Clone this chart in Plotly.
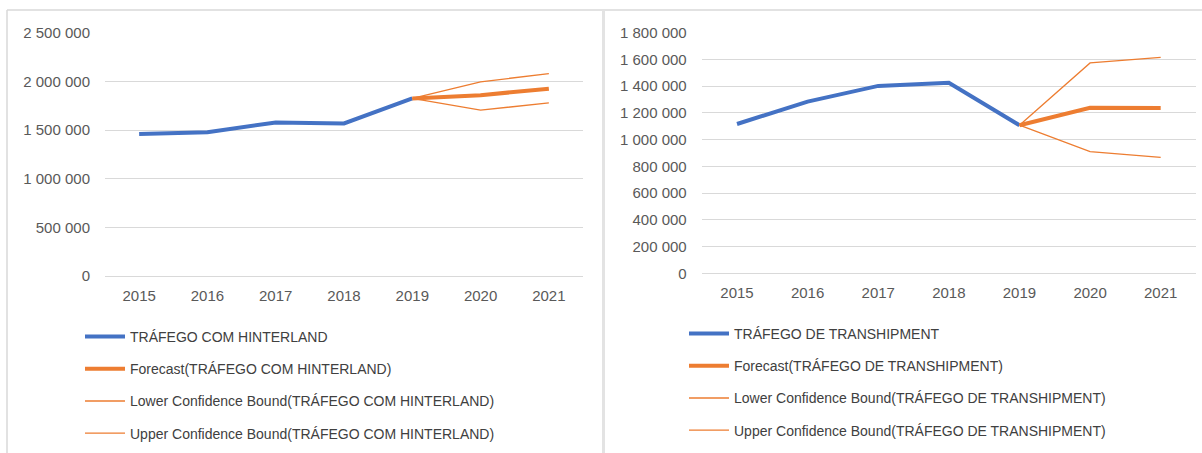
import plotly.graph_objects as go

years = ["2015", "2016", "2017", "2018", "2019", "2020", "2021"]
fc_years = ["2019", "2020", "2021"]

# Left chart: TRÁFEGO COM HINTERLAND
hint_actual = [1458000, 1478000, 1578000, 1568000, 1825000]
hint_forecast = [1825000, 1858000, 1925000]
hint_lower = [1825000, 1704000, 1779000]
hint_upper = [1825000, 1995000, 2080000]

# Right chart: TRÁFEGO DE TRANSHIPMENT
tran_actual = [1117000, 1284000, 1402000, 1425000, 1108000]
tran_forecast = [1108000, 1238000, 1236000]
tran_lower = [1108000, 910000, 868000]
tran_upper = [1108000, 1574000, 1615000]

names_left = ["TRÁFEGO COM HINTERLAND", "Forecast(TRÁFEGO COM HINTERLAND)",
              "Lower Confidence Bound(TRÁFEGO COM HINTERLAND)",
              "Upper Confidence Bound(TRÁFEGO COM HINTERLAND)"]
names_right = ["TRÁFEGO DE TRANSHIPMENT", "Forecast(TRÁFEGO DE TRANSHIPMENT)",
               "Lower Confidence Bound(TRÁFEGO DE TRANSHIPMENT)",
               "Upper Confidence Bound(TRÁFEGO DE TRANSHIPMENT)"]

BLUE = "#4472C4"
ORANGE = "#ED7D31"
W, H = 1202, 453
FONT = "Liberation Sans"

fig = go.Figure()

def add_set(actual, fc, lo, up, names, xa, ya, leg, grp):
    fig.add_trace(go.Scatter(x=years[:5], y=actual, mode="lines", name=names[0],
                             line=dict(color=BLUE, width=4), xaxis=xa, yaxis=ya,
                             legend=leg, legendgroup=grp + "a", legendrank=1))
    fig.add_trace(go.Scatter(x=fc_years, y=lo, mode="lines", name=names[2],
                             line=dict(color=ORANGE, width=1.3), xaxis=xa, yaxis=ya,
                             legend=leg, legendgroup=grp + "c", legendrank=3))
    fig.add_trace(go.Scatter(x=fc_years, y=up, mode="lines", name=names[3],
                             line=dict(color=ORANGE, width=1.3), xaxis=xa, yaxis=ya,
                             legend=leg, legendgroup=grp + "d", legendrank=4))
    fig.add_trace(go.Scatter(x=fc_years, y=fc, mode="lines", name=names[1],
                             line=dict(color=ORANGE, width=4), xaxis=xa, yaxis=ya,
                             legend=leg, legendgroup=grp + "b", legendrank=2))

add_set(hint_actual, hint_forecast, hint_lower, hint_upper, names_left, "x", "y", "legend", "L")
add_set(tran_actual, tran_forecast, tran_lower, tran_upper, names_right, "x2", "y2", "legend2", "R")

tickfont = dict(family=FONT, size=15, color="#595959")
xcommon = dict(type="category", categoryorder="array", categoryarray=years,
               range=[-0.5, 6.5], showgrid=False, showline=False, zeroline=False,
               ticks="", tickfont=tickfont, ticklabelstandoff=9, fixedrange=True,
               automargin=False)
ycommon = dict(showgrid=True, gridcolor="#D9D9D9", gridwidth=1, zeroline=True,
               zerolinecolor="#D9D9D9", zerolinewidth=1, showline=False, ticks="",
               tickfont=tickfont, tickformat=",d", ticklabelstandoff=14, fixedrange=True,
               automargin=False)

legfont = dict(family=FONT, size=14, color="#404040")
legcommon = dict(font=legfont, bgcolor="rgba(0,0,0,0)", tracegroupgap=11,
                 itemwidth=40, xanchor="left", yanchor="top", orientation="v",
                 traceorder="grouped")

fig.update_layout(
    width=W, height=H, autosize=False,
    margin=dict(l=0, r=0, t=0, b=0, autoexpand=False),
    paper_bgcolor="white", plot_bgcolor="white",
    separators=", ",
    showlegend=True,
    xaxis=dict(domain=[105 / W, 583 / W], anchor="y", **xcommon),
    yaxis=dict(domain=[1 - 276 / H, 1 - 32.7 / H], anchor="x",
               range=[0, 2500000], dtick=500000, **ycommon),
    xaxis2=dict(domain=[701.7 / W, 1196 / W], anchor="y2", **xcommon),
    yaxis2=dict(domain=[1 - 273.3 / H, 1 - 32.7 / H], anchor="x2",
                range=[0, 1800000], dtick=200000, **ycommon),
    legend=dict(x=80 / W, y=1 - 321 / H, **legcommon),
    legend2=dict(x=684 / W, y=1 - 318 / H, **legcommon),
    shapes=[
        dict(type="line", xref="paper", yref="paper", x0=7 / W, x1=7 / W, y0=0, y1=1 - 10 / H,
             line=dict(color="#D9D9D9", width=1.5)),
        dict(type="line", xref="paper", yref="paper", x0=7 / W, x1=1, y0=1 - 10 / H, y1=1 - 10 / H,
             line=dict(color="#D9D9D9", width=1.5)),
        dict(type="line", xref="paper", yref="paper", x0=603.5 / W, x1=603.5 / W, y0=0, y1=1 - 10 / H,
             line=dict(color="#E3E3E3", width=3)),
    ],
)

fig.write_html("out.html", config=dict(displayModeBar=False),
               post_script="document.body.style.margin='0';document.body.style.overflow='hidden';")
